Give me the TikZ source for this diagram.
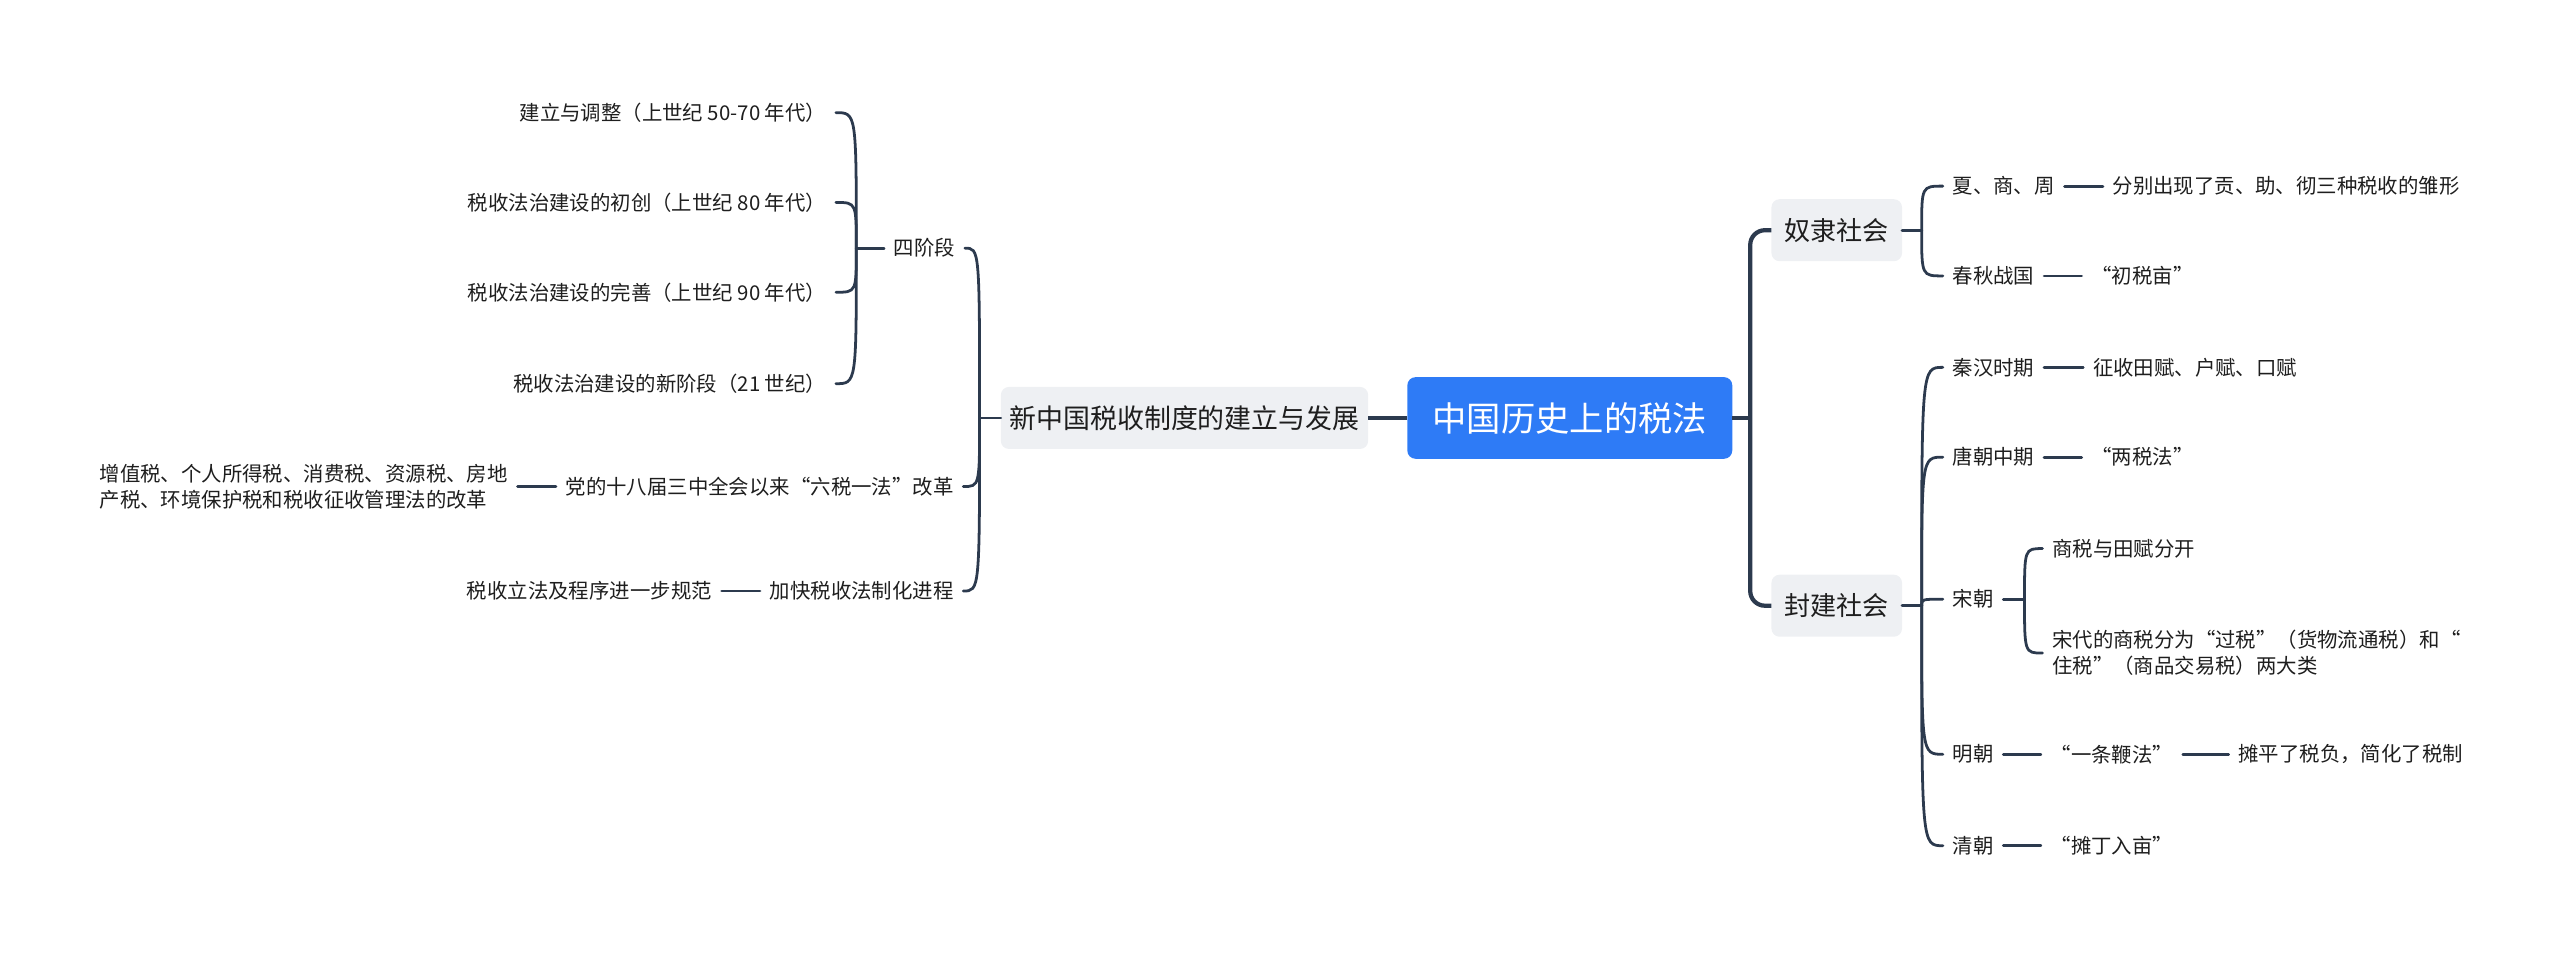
\documentclass[tikz,border=0pt]{standalone}
\usepackage{fontspec}
\setmainfont{Noto Sans CJK SC}
\usetikzlibrary{calc}
\definecolor{lc}{HTML}{2C3A4E}
\definecolor{tc}{HTML}{1E1E1E}
\definecolor{gb}{HTML}{EEF0F3}
\definecolor{bl}{HTML}{2E7BF6}
\newcommand\bracecurve[2]{\draw[conn] (#1) .. controls (#1 |- #2) and (#1 |- #2) .. (#2);}
\tikzset{
  leaf/.style={font=\fontsize{12.5}{16}\selectfont, text=tc, inner sep=0pt, outer xsep=6pt, align=left},
  mid/.style={font=\fontsize{16}{19}\selectfont, text=tc, fill=gb, rounded corners=5pt, minimum width=80pt, minimum height=38pt, inner sep=0pt, outer sep=0pt},
  conn/.style={draw=lc, line width=1.7pt, line cap=round},
  trunk/.style={draw=lc, line width=2.6pt}
}
\begin{document}
\begin{tikzpicture}[x=1pt,y=-1pt]
\useasboundingbox (0,0) rectangle (1568,586);
% root and main nodes
\node[fill=bl, text=white, rounded corners=5pt, minimum width=199pt, minimum height=50pt, inner sep=0pt, outer sep=0pt, font=\fontsize{21}{24}\selectfont] (root) at (961.5,256) {中国历史上的税法};
\node[mid, minimum width=225pt, font=\fontsize{16.5}{20}\selectfont] (xzg) at (725.5,256) {新中国税收制度的建立与发展};
\node[mid] (nl) at (1125,141) {奴隶社会};
\node[mid] (fj) at (1125,371) {封建社会};
\coordinate (rj) at (1072,256);
\draw[trunk] (root.west) -- (xzg.east);
\draw[trunk] (root.east) -- (rj);
\draw[trunk, rounded corners=9pt] (nl.west) -| (rj) |- (fj.west);

% left side
\node[leaf, anchor=east] (sjd) at (591,152) {四阶段};
\node[leaf, anchor=east] (s1) at (512,69) {建立与调整（上世纪 50-70 年代）};
\node[leaf, anchor=east] (s2) at (512,124) {税收法治建设的初创（上世纪 80 年代）};
\node[leaf, anchor=east] (s3) at (512,179) {税收法治建设的完善（上世纪 90 年代）};
\node[leaf, anchor=east] (s4) at (512,235) {税收法治建设的新阶段（21 世纪）};
\node[leaf, anchor=east] (ds) at (590,298) {党的十八届三中全会以来“六税一法”改革};
\node[leaf, anchor=east] (ds2) at (317,298) {增值税、个人所得税、消费税、资源税、房地\\产税、环境保护税和税收征收管理法的改革};
\node[leaf, anchor=east] (jk) at (590,362) {加快税收法制化进程};
\node[leaf, anchor=east] (jk2) at (442,362) {税收立法及程序进一步规范};

\coordinate (jL) at ($(xzg.west)+(-13,0)$);
\draw[conn] (xzg.west) -- (jL);
\bracecurve{jL}{sjd.east}
\bracecurve{jL}{ds.east}
\bracecurve{jL}{jk.east}

\coordinate (jS) at ($(sjd.west)+(-17,0)$);
\draw[conn] (sjd.west) -- (jS);
\bracecurve{jS}{s1.east}
\bracecurve{jS}{s2.east}
\bracecurve{jS}{s3.east}
\bracecurve{jS}{s4.east}
\draw[conn] (ds.west) -- (ds2.east);
\draw[conn] (jk.west) -- (jk2.east);

% right side: slave society
\node[leaf, anchor=west] (xsz) at (1190,114) {夏、商、周};
\node[leaf, anchor=west] (xsz2) at (1288,114) {分别出现了贡、助、彻三种税收的雏形};
\node[leaf, anchor=west] (cq) at (1190,169) {春秋战国};
\node[leaf, anchor=west] (cq2) at (1275,169) {“初税亩”};
\coordinate (jN) at ($(nl.east)+(12,0)$);
\draw[conn] (nl.east) -- (jN);
\bracecurve{jN}{xsz.west}
\bracecurve{jN}{cq.west}
\draw[conn] (xsz.east) -- (xsz2.west);
\draw[conn] (cq.east) -- (cq2.west);

% right side: feudal society
\node[leaf, anchor=west] (qh) at (1190,225) {秦汉时期};
\node[leaf, anchor=west] (qh2) at (1276,225) {征收田赋、户赋、口赋};
\node[leaf, anchor=west] (tcz) at (1190,280) {唐朝中期};
\node[leaf, anchor=west] (tcz2) at (1275,280) {“两税法”};
\node[leaf, anchor=west] (sc) at (1190,367) {宋朝};
\node[leaf, anchor=west] (sc1) at (1251,336) {商税与田赋分开};
\node[leaf, anchor=west] (sc2) at (1251,400) {宋代的商税分为“过税”（货物流通税）和“\\住税”（商品交易税）两大类};
\node[leaf, anchor=west] (mc) at (1190,462) {明朝};
\node[leaf, anchor=west] (mc2) at (1250,462) {“一条鞭法”};
\node[leaf, anchor=west] (mc3) at (1365,462) {摊平了税负，简化了税制};
\node[leaf, anchor=west] (qc) at (1190,518) {清朝};
\node[leaf, anchor=west] (qc2) at (1250,518) {“摊丁入亩”};

\coordinate (jF) at ($(fj.east)+(12,0)$);
\draw[conn] (fj.east) -- (jF);
\bracecurve{jF}{qh.west}
\bracecurve{jF}{tcz.west}
\bracecurve{jF}{sc.west}
\bracecurve{jF}{mc.west}
\bracecurve{jF}{qc.west}
\draw[conn] (qh.east) -- (qh2.west);
\draw[conn] (tcz.east) -- (tcz2.west);
\draw[conn] (mc.east) -- (mc2.west);
\draw[conn] (mc2.east) -- (mc3.west);
\draw[conn] (qc.east) -- (qc2.west);

\coordinate (jSong) at ($(sc.east)+(13,0)$);
\draw[conn] (sc.east) -- (jSong);
\bracecurve{jSong}{sc1.west}
\bracecurve{jSong}{sc2.west}
\end{tikzpicture}
\end{document}
